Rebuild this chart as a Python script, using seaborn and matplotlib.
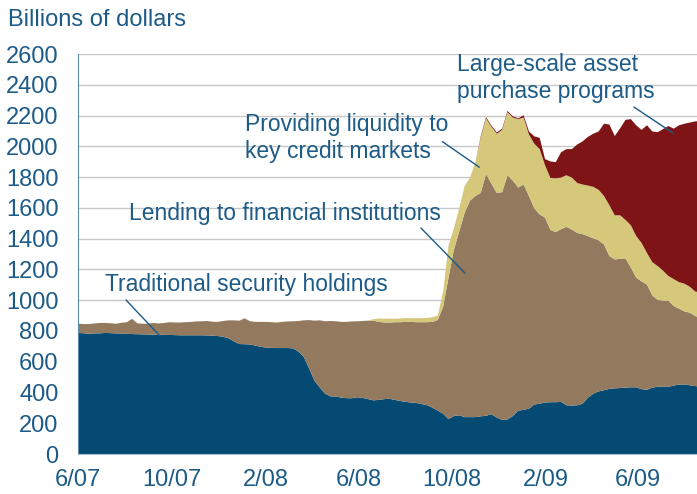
import matplotlib
matplotlib.use("Agg")
import matplotlib.pyplot as plt
import seaborn as sns
import pandas as pd

# weekly observations, June 2007 - August 2009 (billions of dollars)
weeks = pd.date_range("2007-06-01", periods=117, freq="7D")

traditional = [
    790, 788, 785, 787, 788, 790, 789, 787, 786, 784, 783, 782, 781, 780, 779, 778,
    778, 777, 776, 775, 775, 775, 775, 775, 774, 772, 770, 765, 755, 735, 718, 717,
    715, 708, 700, 695, 693, 692, 692, 692, 690, 670, 635, 560, 480, 435, 395, 378,
    377, 370, 366, 366, 372, 368, 360, 352, 355, 360, 362, 355, 348, 342, 338, 335,
    328, 320, 305, 285, 265, 230, 250, 255, 243, 243, 243, 248, 252, 262, 240, 225,
    228, 250, 285, 290, 298, 325, 330, 338, 340, 340, 342, 320, 318, 320, 330, 370,
    395, 410, 418, 427, 430, 432, 435, 437, 437, 425, 420, 435, 440, 442, 440, 448,
    455, 455, 450, 445, 440,
]
lending = [
    60, 60, 63, 65, 67, 65, 64, 63, 70, 76, 99, 70, 69, 70, 76, 74,
    77, 83, 82, 83, 85, 87, 90, 91, 94, 91, 92, 103, 117, 137, 152, 168,
    151, 154, 162, 167, 167, 166, 170, 173, 176, 198, 237, 314, 390, 437, 471, 490,
    489, 492, 496, 499, 494, 500, 510, 518, 507, 498, 496, 505, 512, 520, 524, 525,
    532, 540, 557, 590, 695, 920, 1080, 1195, 1327, 1407, 1437, 1452, 1572, 1498, 1460, 1480,
    1587, 1530, 1450, 1465, 1382, 1275, 1230, 1202, 1120, 1105, 1123, 1160, 1144, 1120, 1102, 1050,
    1010, 982, 947, 863, 838, 840, 840, 778, 713, 700, 685, 599, 565, 558, 560, 517,
    493, 475, 472, 455, 450,
]
liquidity = [0] * 55 + [
    10, 22, 24, 25, 22, 24, 25, 24, 26, 26, 28, 30, 28, 100, 210, 140, 150, 175, 150,
    220, 360, 361, 370, 385, 405, 410, 410, 445, 435, 400, 420, 425, 340, 338, 350, 335,
    335, 338, 325, 323, 328, 335, 328, 315, 330, 287, 283, 250, 275, 270, 250, 205,
    216, 220, 195, 160, 175, 172, 180, 168, 160, 160,
]
lsap = [0] * 75 + [
    8, 8, 8, 8, 8, 8, 8, 5, 15, 20, 48, 73, 40, 107, 105, 165, 170, 185, 250, 280,
    317, 345, 380, 470, 525, 515, 565, 650, 690, 720, 735, 830, 850, 870, 920, 975,
    978, 1020, 1040, 1068, 1105, 1118,
]

series_labels = [
    "Traditional security holdings",
    "Lending to financial institutions",
    "Providing liquidity to\nkey credit markets",
    "Large-scale asset\npurchase programs",
]
colors = ["#054A72", "#937A5E", "#D5C87B", "#7E1416"]

tick_dates = pd.to_datetime(["2007-06-01", "2007-10-01", "2008-02-01", "2008-06-01",
                             "2008-10-01", "2009-02-01", "2009-06-01"])
tick_labels = ["6/07", "10/07", "2/08", "6/08", "10/08", "2/09", "6/09"]
y_ticks = list(range(0, 2601, 200))

text_blue = "#1D5B88"

sns.set_style("white")
plt.rcParams["font.family"] = ["Liberation Sans", "DejaVu Sans"]

fig = plt.figure(figsize=(6.97, 4.94), dpi=100)
ax = fig.add_axes([78 / 697, 40 / 494, 619 / 697, 400 / 494])

ax.stackplot(weeks, traditional, lending, liquidity, lsap, colors=colors,
             linewidth=0, zorder=2)

ax.set_ylim(0, 2600)
ax.set_xlim(pd.Timestamp("2007-06-01"), pd.Timestamp("2007-06-01") + pd.Timedelta(days=808))
ax.set_yticks(y_ticks)
ax.set_yticklabels([str(v) for v in y_ticks])
ax.set_xticks(tick_dates)
ax.set_xticklabels(tick_labels)
ax.yaxis.grid(True, color="#C8C8C8", linewidth=1.0, zorder=0)
ax.set_axisbelow(True)

for side in ["top", "right"]:
    ax.spines[side].set_visible(False)
ax.spines["left"].set_color("#5F8BAA")
ax.spines["bottom"].set_color("#A9BFD0")
ax.tick_params(axis="y", direction="in", length=5, color="#5F8BAA", pad=14,
               labelsize=17, labelcolor=text_blue)
ax.tick_params(axis="x", direction="in", length=5, color="#E8EEF3", pad=11,
               labelsize=17, labelcolor=text_blue)
for t in ax.get_xticklines():
    t.set_zorder(5)

fig.text(8 / 697, 1 - 9 / 494, "Billions of dollars", color=text_blue, fontsize=17,
         ha="left", va="top")

# annotation labels (axes fraction) and their leader lines
label_pos = [(0.0436, 0.452), (0.0824, 0.63), (0.2698, 0.852), (0.6123, 1.002)]
leader = [((0.0775, 0.385), (0.1325, 0.295)),
          ((0.554, 0.565), (0.625, 0.4525)),
          ((0.5886, 0.781), (0.6483, 0.717)),
          ((0.898, 0.8675), (0.961, 0.8025))]
for lab, pos, (p0, p1) in zip(series_labels, label_pos, leader):
    ax.text(pos[0], pos[1], lab, transform=ax.transAxes, fontsize=16.5,
            color=text_blue, ha="left", va="top", zorder=6, clip_on=False)
    ax.annotate("", xy=p1, xytext=p0, xycoords="axes fraction",
                textcoords="axes fraction",
                arrowprops=dict(arrowstyle="-", color=text_blue, lw=1.0,
                                shrinkA=0, shrinkB=0), zorder=6)

fig.savefig("out.png", dpi=100)
